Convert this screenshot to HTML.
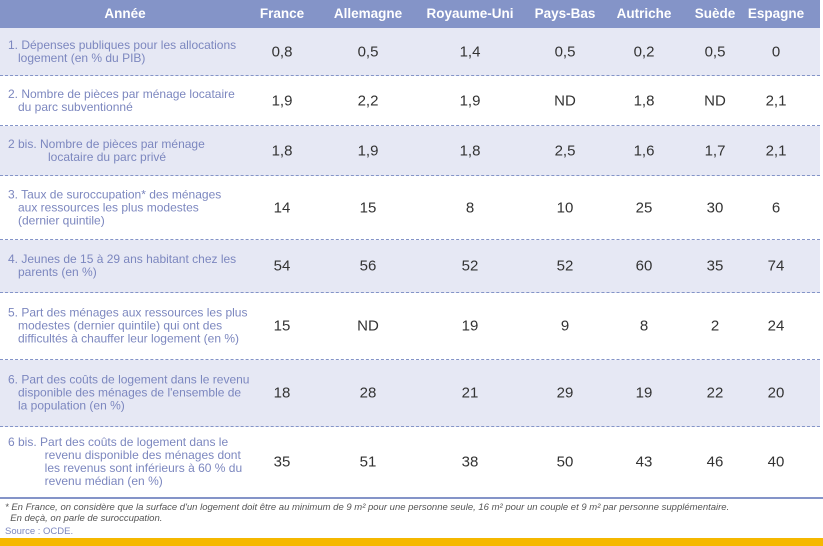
<!DOCTYPE html>
<html><head><meta charset="utf-8"><style>
body{margin:0;width:823px;height:546px;position:relative;background:#fff;font-family:"Liberation Sans",sans-serif;overflow:hidden}
.hdr{position:absolute;left:0;top:0;width:820px;height:28px;background:#8494c8}
.h{position:absolute;top:6px;color:#fff;font-weight:bold;font-size:13.5px;transform:translateX(-50%);white-space:nowrap}
.row{position:absolute;left:0;width:820px;border-bottom:1px dashed #8494c8}
.sh{background:#e6e8f4}
.lab{position:absolute;left:8px;width:240px;color:#7c87bf;font-size:12px;line-height:13px;top:50%;transform:translateY(-50%);white-space:nowrap}
.v{position:absolute;top:50%;transform:translate(-50%,-50%);color:#333;font-size:15px}
.foot{position:absolute;left:5px;font-size:9.5px;font-style:italic;color:#555;}
</style></head><body>
<div class="hdr">
<span class="h" style="left:125px">Année</span>
<span class="h" style="left:282px">France</span>
<span class="h" style="left:368px">Allemagne</span>
<span class="h" style="left:470px">Royaume-Uni</span>
<span class="h" style="left:565px">Pays-Bas</span>
<span class="h" style="left:644px">Autriche</span>
<span class="h" style="left:715px">Suède</span>
<span class="h" style="left:776px">Espagne</span>
</div>
<div id="rows"></div>
<div style="position:absolute;left:0;top:497px;width:823px;height:2px;background:#8494c8"></div>
<div class="foot" style="top:502px">* En France, on considère que la surface d'un logement doit être au minimum de 9 m² pour une personne seule, 16 m² pour un couple et 9 m² par personne supplémentaire.<br>&nbsp;&nbsp;En deçà, on parle de suroccupation.</div>
<div class="foot" style="top:526px;font-style:normal;color:#7c87bf">Source : OCDE.</div>
<div style="position:absolute;left:0;top:538px;width:823px;height:8px;background:#f5b800"></div>
<script>
const labels=["1. Dépenses publiques pour les allocations<br>&nbsp;&nbsp;&nbsp;logement (en % du PIB)","2. Nombre de pièces par ménage locataire<br>&nbsp;&nbsp;&nbsp;du parc subventionné","2 bis. Nombre de pièces par ménage<br>&nbsp;&nbsp;&nbsp;&nbsp;&nbsp;&nbsp;&nbsp;&nbsp;&nbsp;&nbsp;&nbsp;&nbsp;locataire du parc privé","3. Taux de suroccupation* des ménages<br>&nbsp;&nbsp;&nbsp;aux ressources les plus modestes<br>&nbsp;&nbsp;&nbsp;(dernier quintile)","4. Jeunes de 15 à 29 ans habitant chez les<br>&nbsp;&nbsp;&nbsp;parents (en %)","5. Part des ménages aux ressources les plus<br>&nbsp;&nbsp;&nbsp;modestes (dernier quintile) qui ont des<br>&nbsp;&nbsp;&nbsp;difficultés à chauffer leur logement (en %)","6. Part des coûts de logement dans le revenu<br>&nbsp;&nbsp;&nbsp;disponible des ménages de l'ensemble de<br>&nbsp;&nbsp;&nbsp;la population (en %)","6 bis. Part des coûts de logement dans le<br>&nbsp;&nbsp;&nbsp;&nbsp;&nbsp;&nbsp;&nbsp;&nbsp;&nbsp;&nbsp;&nbsp;revenu disponible des ménages dont<br>&nbsp;&nbsp;&nbsp;&nbsp;&nbsp;&nbsp;&nbsp;&nbsp;&nbsp;&nbsp;&nbsp;les revenus sont inférieurs à 60 % du<br>&nbsp;&nbsp;&nbsp;&nbsp;&nbsp;&nbsp;&nbsp;&nbsp;&nbsp;&nbsp;&nbsp;revenu médian (en %)"];
const values=[["0,8","0,5","1,4","0,5","0,2","0,5","0"],["1,9","2,2","1,9","ND","1,8","ND","2,1"],["1,8","1,9","1,8","2,5","1,6","1,7","2,1"],["14","15","8","10","25","30","6"],["54","56","52","52","60","35","74"],["15","ND","19","9","8","2","24"],["18","28","21","29","19","22","20"],["35","51","38","50","43","46","40"]];
const tops=[28,76,126,176,240,293,360,427,497];
const cx=[282,368,470,565,644,715,776];
const R=document.getElementById('rows');
labels.forEach((l,i)=>{
 const r=document.createElement('div');
 r.className='row'+(i%2==0?' sh':'');
 r.style.top=tops[i]+'px';r.style.height=(tops[i+1]-tops[i]-1)+'px';
 if(i==7)r.style.borderBottom='none';
 
 
 const lb=document.createElement('div');lb.className='lab';lb.innerHTML=l;
 
 
 r.appendChild(lb);
 values[i].forEach((v,j)=>{
  const c=document.createElement('span');c.className='v';c.textContent=v;c.style.left=cx[j]+'px';
  
  
  r.appendChild(c);
 });
 R.appendChild(r);
});
</script>
</body></html>
